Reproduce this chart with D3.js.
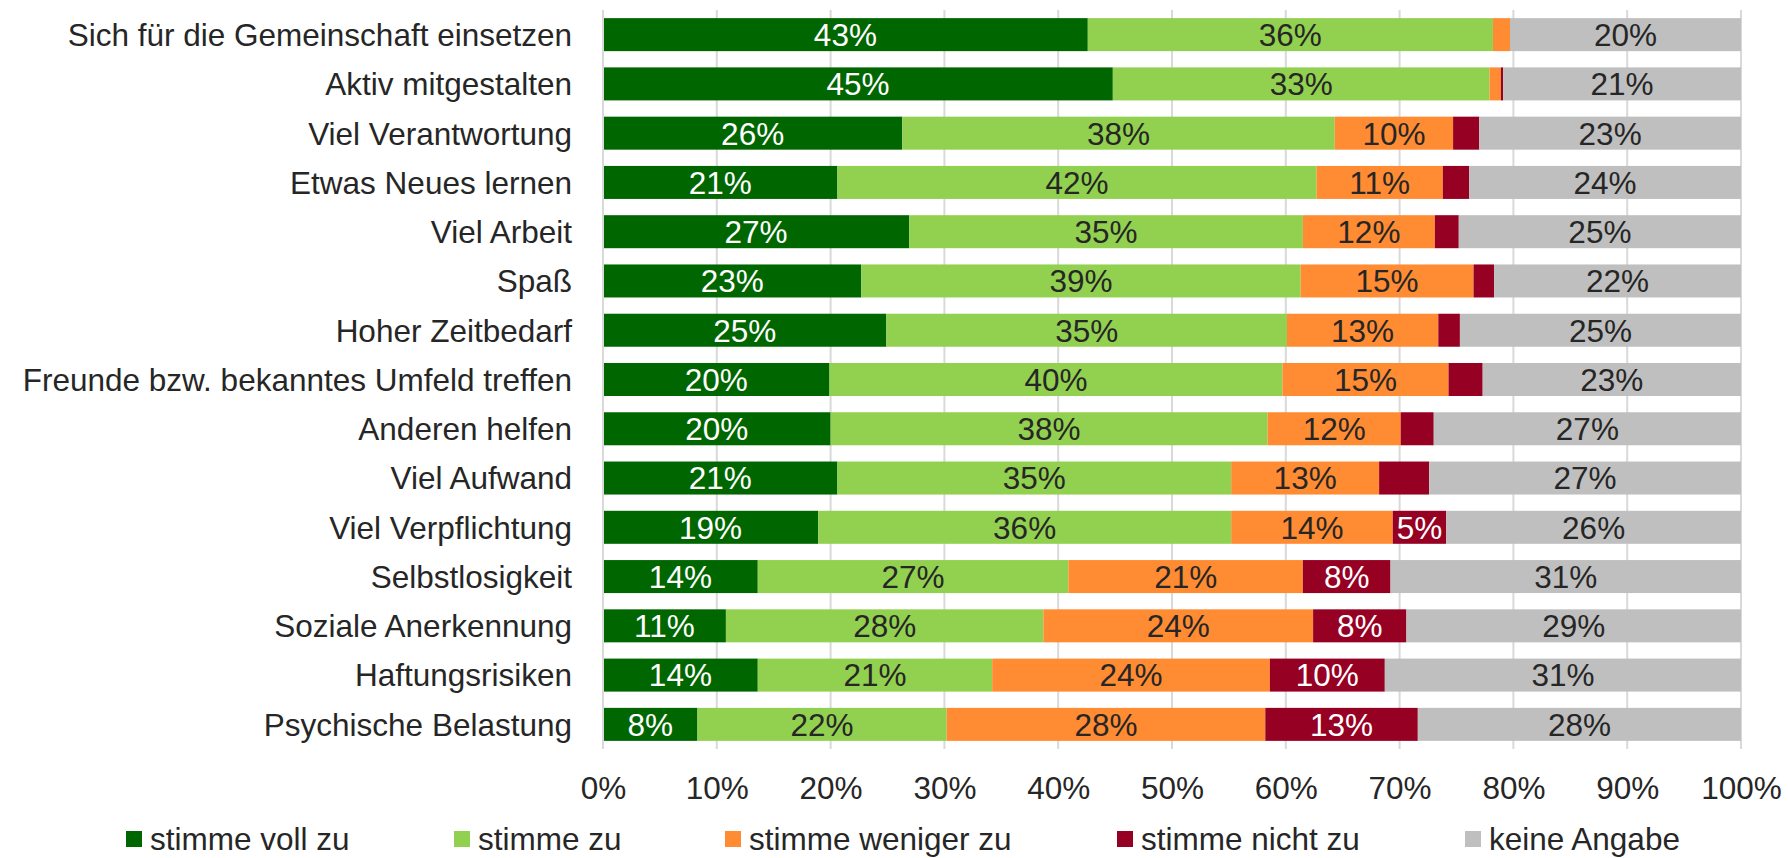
<!DOCTYPE html>
<html>
<head>
<meta charset="utf-8">
<script src="https://cdn.jsdelivr.net/npm/d3@7"></script>
<style>
    body { margin: 0; background: #fff; }
    svg { display: block; font-family: "Liberation Sans", Arial, sans-serif; }
</style>
</head>
<body>
<div id="chart"></div>
<script>
let categories = ["Sich für die Gemeinschaft einsetzen", "Aktiv mitgestalten", "Viel Verantwortung", "Etwas Neues lernen", "Viel Arbeit", "Spaß", "Hoher Zeitbedarf", "Freunde bzw. bekanntes Umfeld treffen", "Anderen helfen", "Viel Aufwand", "Viel Verpflichtung", "Selbstlosigkeit", "Soziale Anerkennung", "Haftungsrisiken", "Psychische Belastung"];

let seriesNames = ["stimme voll zu", "stimme zu", "stimme weniger zu", "stimme nicht zu", "keine Angabe"];

let vollZu     = [42.6, 44.8, 26.3, 20.6, 26.9, 22.7, 24.9, 19.9, 20.0, 20.6, 18.9, 13.6, 10.8, 13.6, 8.3];
let zu         = [35.6, 33.1, 38.0, 42.1, 34.6, 38.6, 35.2, 39.8, 38.4, 34.6, 36.3, 27.3, 27.9, 20.6, 21.9];
let wenigerZu  = [1.5, 1.0, 10.4, 11.1, 11.6, 15.2, 13.3, 14.6, 11.7, 13.0, 14.2, 20.6, 23.7, 24.4, 28.0];
let nichtZu    = [0.0, 0.2, 2.3, 2.3, 2.1, 1.8, 1.9, 3.0, 2.9, 4.4, 4.7, 7.7, 8.2, 10.1, 13.4];
let keineAngabe = [20.3, 20.9, 23.0, 23.9, 24.8, 21.7, 24.7, 22.7, 27.0, 27.4, 25.9, 30.8, 29.4, 31.3, 28.4];

let xTicks = [0, 10, 20, 30, 40, 50, 60, 70, 80, 90, 100];

let colors = ["#006600", "#92D050", "#FF8B33", "#960023", "#BFBFBF"];
let labelColors = ["#ffffff", "#262626", "#262626", "#ffffff", "#262626"];

let width = 1788, height = 858;
let fontSize = 31.5;

let table = categories.map(function (c, i) {
    let row = { name: c };
    row[seriesNames[0]] = vollZu[i];
    row[seriesNames[1]] = zu[i];
    row[seriesNames[2]] = wenigerZu[i];
    row[seriesNames[3]] = nichtZu[i];
    row[seriesNames[4]] = keineAngabe[i];
    return row;
});

let stacked = d3.stack().keys(seriesNames)(table);

var svg = d3.select('#chart')
    .append('svg')
    .attr('width', width)
    .attr('height', height);

let x = d3.scaleLinear().domain([0, 100]).range([603, 1741]);
let y = d3.scaleBand()
    .domain(categories)
    .range([10, 749])
    .paddingInner(0.33)
    .paddingOuter(0.165);

let color = d3.scaleOrdinal().domain(seriesNames).range(colors);

// gridlines behind the bars
svg.append('g')
    .selectAll('line')
    .data(xTicks)
    .enter()
    .append('line')
    .attr('x1', function (d) { return x(d); })
    .attr('x2', function (d) { return x(d); })
    .attr('y1', 10)
    .attr('y2', 749)
    .attr('stroke', '#d9d9d9')
    .attr('stroke-width', 2);

let layers = svg.append('g')
    .selectAll('g')
    .data(stacked)
    .enter()
    .append('g')
    .attr('fill', function (d) { return color(d.key); });

layers.selectAll('rect')
    .data(function (d) { return d; })
    .enter()
    .append('rect')
    .attr('x', function (d) { return x(d[0]); })
    .attr('y', function (d) { return y(d.data.name); })
    .attr('width', function (d) { return x(d[1]) - x(d[0]); })
    .attr('height', y.bandwidth());

// value labels (small segments stay unlabeled)
stacked.forEach(function (s, si) {
    svg.append('g')
        .selectAll('text')
        .data(s.filter(function (d) { return d[1] - d[0] >= 4.5; }))
        .enter()
        .append('text')
        .attr('x', function (d) { return (x(d[0]) + x(d[1])) / 2; })
        .attr('y', function (d) { return y(d.data.name) + y.bandwidth() / 2; })
        .attr('dy', '0.36em')
        .attr('text-anchor', 'middle')
        .attr('fill', labelColors[si])
        .style('font-size', fontSize + 'px')
        .text(function (d) { return Math.round(d[1] - d[0]) + '%'; });
});

// category axis
let yAxis = d3.axisLeft(y).tickSize(0).tickPadding(0);
let yG = svg.append('g')
    .attr('transform', 'translate(572,0)')
    .call(yAxis);
yG.select('.domain').remove();
yG.selectAll('text')
    .attr('fill', '#262626')
    .attr('dy', '0.36em')
    .style('font-size', fontSize + 'px')
    .style('font-family', '"Liberation Sans", Arial, sans-serif');

svg.append('line')
    .attr('x1', x(0)).attr('x2', x(0))
    .attr('y1', 10).attr('y2', 749)
    .attr('stroke', '#d9d9d9')
    .attr('stroke-width', 2);

// value axis
let xAxis = d3.axisBottom(x)
    .tickValues(xTicks)
    .tickSize(0)
    .tickPadding(0)
    .tickFormat(function (d) { return d + '%'; });
let xG = svg.append('g')
    .attr('transform', 'translate(0,799)')
    .call(xAxis);
xG.select('.domain').remove();
xG.selectAll('text')
    .attr('fill', '#262626')
    .attr('dy', 0)
    .style('font-size', fontSize + 'px')
    .style('font-family', '"Liberation Sans", Arial, sans-serif');

// legend
let legendX = [126, 454, 725, 1117, 1465];
let legend = svg.append('g')
    .selectAll('g')
    .data(seriesNames)
    .enter()
    .append('g')
    .attr('transform', function (d, i) { return 'translate(' + legendX[i] + ',831)'; });

legend.append('rect')
    .attr('width', 16)
    .attr('height', 16)
    .attr('fill', function (d) { return color(d); });

legend.append('text')
    .attr('x', 24)
    .attr('y', 19)
    .attr('fill', '#262626')
    .style('font-size', fontSize + 'px')
    .text(function (d) { return d; });
</script>
</body>
</html>
